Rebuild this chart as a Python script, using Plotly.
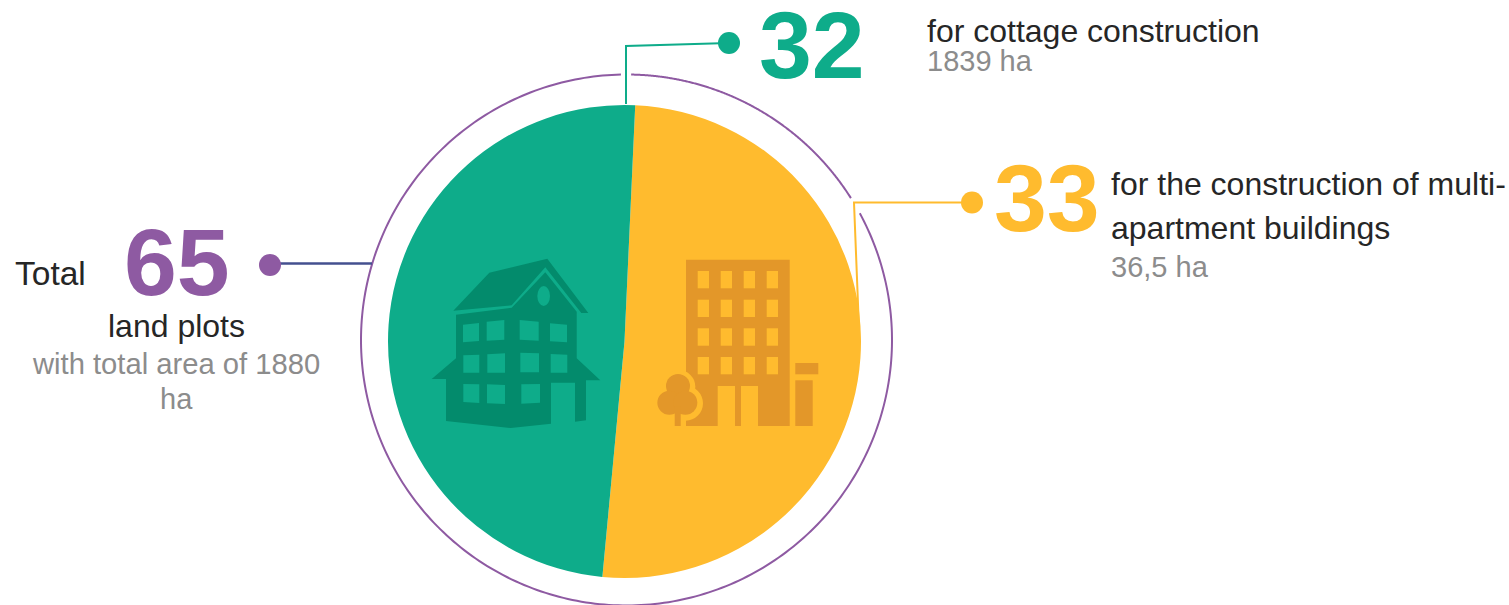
import numpy as np
import plotly.graph_objects as go

W, H = 1509, 605

# ---- data ----
categories = ["for the construction of multi-apartment buildings", "for cottage construction"]
plots = [33, 32]
areas = ["36,5 ha", "1839 ha"]
total_plots = 65
colors = ["#FFBB2E", "#0EAC8A"]
PURPLE = "#8E5AA2"
DARK_GREEN = "#038B6C"
DARK_ORANGE = "#E39729"
GREY = "#8C8C8C"
INK = "#262626"
FONT = "Liberation Sans"

CX, CY, R = 624.5, 341.5, 236.5

fig = go.Figure()

# pie
fig.add_trace(go.Pie(
    labels=categories, values=plots, sort=False, direction="clockwise", rotation=2.6,
    marker=dict(colors=colors, line=dict(width=0)), textinfo="none", hoverinfo="label+value",
    showlegend=False,
    domain=dict(x=[(CX - R) / W, (CX + R) / W], y=[1 - (CY + R) / H, 1 - (CY - R) / H]),
))

# outer ring, broken where leader lines cross it
RCX, RCY, RR = 626.5, 340, 265.5
def arc(a0, a1):
    t = np.radians(np.linspace(a0, a1, 300))
    return RCX + RR * np.sin(t), RCY - RR * np.cos(t)

for a0, a1 in [(1.0, 57.7), (61.5, 358.8)]:
    x, y = arc(a0, a1)
    fig.add_trace(go.Scatter(x=x, y=y, mode="lines", line=dict(color=PURPLE, width=2, simplify=False),
                             hoverinfo="skip", showlegend=False))

# leader lines
leaders = [
    ([626, 626, 729], [104, 46, 43], colors[1], 2),
    ([859.5, 854, 972], [342, 202.5, 202.5], colors[0], 2),
    ([270, 372], [263.5, 263.5], "#44508F", 2.4),
]
for lx, ly, c, lw in leaders:
    fig.add_trace(go.Scatter(x=lx, y=ly, mode="lines", line=dict(color=c, width=lw),
                             hoverinfo="skip", showlegend=False))
dots = [(729, 43, colors[1]), (972, 202.5, colors[0]), (270, 265, PURPLE)]
for dx, dy, c in dots:
    fig.add_trace(go.Scatter(x=[dx], y=[dy], mode="markers", marker=dict(color=c, size=22),
                             hoverinfo="skip", showlegend=False))

# ---- icons ----
shapes = []
def poly(points, fill, ox, oy):
    d = "M" + " L".join(f"{ox + px / 3:.1f},{oy + py / 3:.1f}" for px, py in points) + " Z"
    shapes.append(dict(type="path", path=d, fillcolor=fill, line=dict(width=0), layer="above",
                       xref="x", yref="y"))
def rect(x0, y0, x1, y1, fill, ox, oy):
    poly([(x0, y0), (x1, y0), (x1, y1), (x0, y1)], fill, ox, oy)
def ell(cx, cy, rx, ry, fill, ox, oy):
    shapes.append(dict(type="circle", x0=ox + (cx - rx) / 3, x1=ox + (cx + rx) / 3,
                       y0=oy + (cy - ry) / 3, y1=oy + (cy + ry) / 3, fillcolor=fill,
                       line=dict(width=0), layer="above", xref="x", yref="y"))

HX, HY = 420, 240
poly([(100, 212), (208, 98), (382, 56), (505, 219), (484, 219), (376, 82), (275, 196)], DARK_GREEN, HX, HY)
poly([(108, 224), (275, 203), (376, 97), (470, 215), (470, 355), (541, 421), (498, 421), (498, 541),
      (465, 545), (465, 428), (393, 428), (393, 551), (272, 564), (78, 543), (78, 417), (35, 417),
      (108, 355)], DARK_GREEN, HX, HY)
ell(371, 168, 19, 30, colors[1], HX, HY)
house_windows = [
    [(129, 254), (177, 249), (177, 303), (129, 307)], [(200, 245), (253, 240), (253, 299), (200, 302)],
    [(299, 240), (356, 245), (356, 302), (299, 299)], [(390, 250), (441, 254), (441, 307), (390, 304)],
    [(130, 346), (178, 344), (178, 398), (130, 398)], [(202, 343), (255, 340), (255, 398), (202, 398)],
    [(301, 338), (357, 340), (357, 397), (301, 397)], [(392, 342), (442, 344), (442, 398), (392, 398)],
    [(130, 432), (178, 433), (178, 489), (130, 486)], [(201, 433), (255, 435), (255, 492), (201, 490)],
    [(304, 433), (360, 432), (360, 488), (304, 491)],
]
for w in house_windows:
    poly(w, colors[1], HX, HY)

BX, BY = 640, 240
rect(138, 59, 449, 558, DARK_ORANGE, BX, BY)
for wx in (173, 242, 311, 380):
    for wy in (93, 179, 265, 351):
        rect(wx, wy, wx + 34, wy + 52, colors[0], BX, BY)
rect(233, 438, 285, 558, colors[0], BX, BY)
rect(303, 438, 354, 558, colors[0], BX, BY)
rect(466, 369, 535, 403, DARK_ORANGE, BX, BY)
rect(466, 421, 518, 558, DARK_ORANGE, BX, BY)
ell(116, 440, 50, 50, colors[0], BX, BY)
ell(137, 490, 52, 52, colors[0], BX, BY)
rect(120, 500, 138, 558, colors[0], BX, BY)
ell(114, 438, 36, 36, DARK_ORANGE, BX, BY)
ell(88, 488, 36, 36, DARK_ORANGE, BX, BY)
ell(136, 488, 36, 36, DARK_ORANGE, BX, BY)
rect(104, 500, 122, 558, DARK_ORANGE, BX, BY)

# ---- text ----
def label(x, y, text, size, color, anchor="left", bold=False):
    return dict(x=x, y=y, xref="x", yref="y", text=f"<b>{text}</b>" if bold else text, showarrow=False,
                xanchor=anchor, yanchor="middle", align=anchor, borderpad=0,
                xshift=-1 if anchor == "left" else 0,
                font=dict(family=FONT, size=size, color=color))

annotations = [
    label(812, 45, str(plots[1]), 95, colors[1], "center", True),
    label(1047, 198, str(plots[0]), 95, colors[0], "center", True),
    label(177, 262, str(total_plots), 95, PURPLE, "center", True),
    label(927, 31, categories[1], 32, INK),
    label(927, 61, areas[1], 29, GREY),
    label(1111, 184, "for the construction of multi-", 32, INK),
    label(1111, 228, "apartment buildings", 32, INK),
    label(1111, 267, areas[0], 29, GREY),
    label(15, 273, "Total", 33.5, INK),
    label(176, 326, "land plots", 32, INK, "center"),
    label(176, 364, "with total area of 1880", 29.2, GREY, "center"),
    label(176, 399, "ha", 29, GREY, "center"),
]

axis = dict(visible=False, fixedrange=True)
fig.update_layout(
    width=W, height=H, autosize=False, margin=dict(l=0, r=0, t=0, b=0),
    paper_bgcolor="white", plot_bgcolor="white", showlegend=False,
    xaxis=dict(range=[0, W], domain=[0, 1], **axis),
    yaxis=dict(range=[H, 0], domain=[0, 1], **axis),
    shapes=shapes, annotations=annotations,
)
fig.write_html("out.html", config=dict(displayModeBar=False),
               post_script="document.body.style.margin='0';document.documentElement.style.overflow='hidden';")
